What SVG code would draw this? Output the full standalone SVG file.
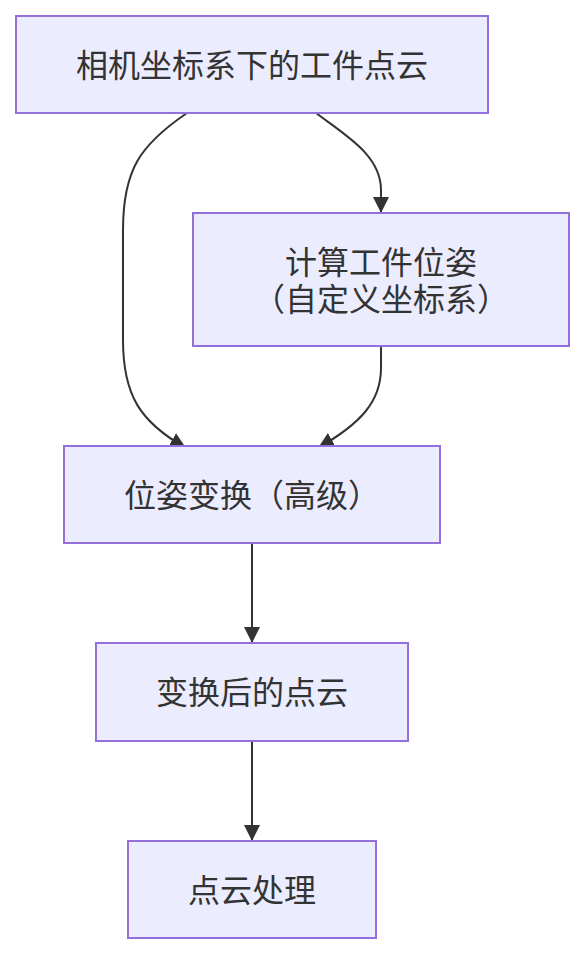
<svg xmlns="http://www.w3.org/2000/svg" width="585" height="954" viewBox="0 0 585 954">
<defs>
<style>
.node rect{fill:#ECECFF;stroke:#9370DB;stroke-width:2}
.node text{fill:#333333;font-family:"Noto Sans CJK SC","Noto Sans",sans-serif;font-size:32px;text-anchor:middle}
.edges path{fill:none;stroke:#333333;stroke-width:2}
</style>
<marker id="arrow" viewBox="0 0 10 10" refX="10" refY="5" markerUnits="userSpaceOnUse" markerWidth="16" markerHeight="16" orient="auto">
<path d="M0,0 L10,5 L0,10 z" fill="#333333"/>
</marker>
</defs>
<rect width="585" height="954" fill="#ffffff"/>
<g class="edges">
<path d="M187,113 C140,145 123,170 123,230 L123,340 C123,395 140,422 186,448" marker-end="url(#arrow)"/>
<path d="M316,113 C345,135 381,155 381,190 L381,213" marker-end="url(#arrow)"/>
<path d="M381,346 L381,368 C381,402 360,424 318,448" marker-end="url(#arrow)"/>
<path d="M252,544 L252,643" marker-end="url(#arrow)"/>
<path d="M252,741 L252,841" marker-end="url(#arrow)"/>
</g>
<g id="n1" class="node">
<rect x="16" y="16" width="472" height="97"/>
<text x="252" y="77">相机坐标系下的工件点云</text>
</g>
<g id="n2" class="node">
<rect x="193" y="213" width="376" height="133"/>
<text x="381" y="274">计算工件位姿</text>
<text x="381" y="311">（自定义坐标系）</text>
</g>
<g id="n3" class="node">
<rect x="64" y="446" width="376" height="97"/>
<text x="252" y="507">位姿变换（高级）</text>
</g>
<g id="n4" class="node">
<rect x="96" y="643" width="312" height="98"/>
<text x="252" y="704">变换后的点云</text>
</g>
<g id="n5" class="node">
<rect x="128" y="841" width="248" height="97"/>
<text x="252" y="902">点云处理</text>
</g>
</svg>
